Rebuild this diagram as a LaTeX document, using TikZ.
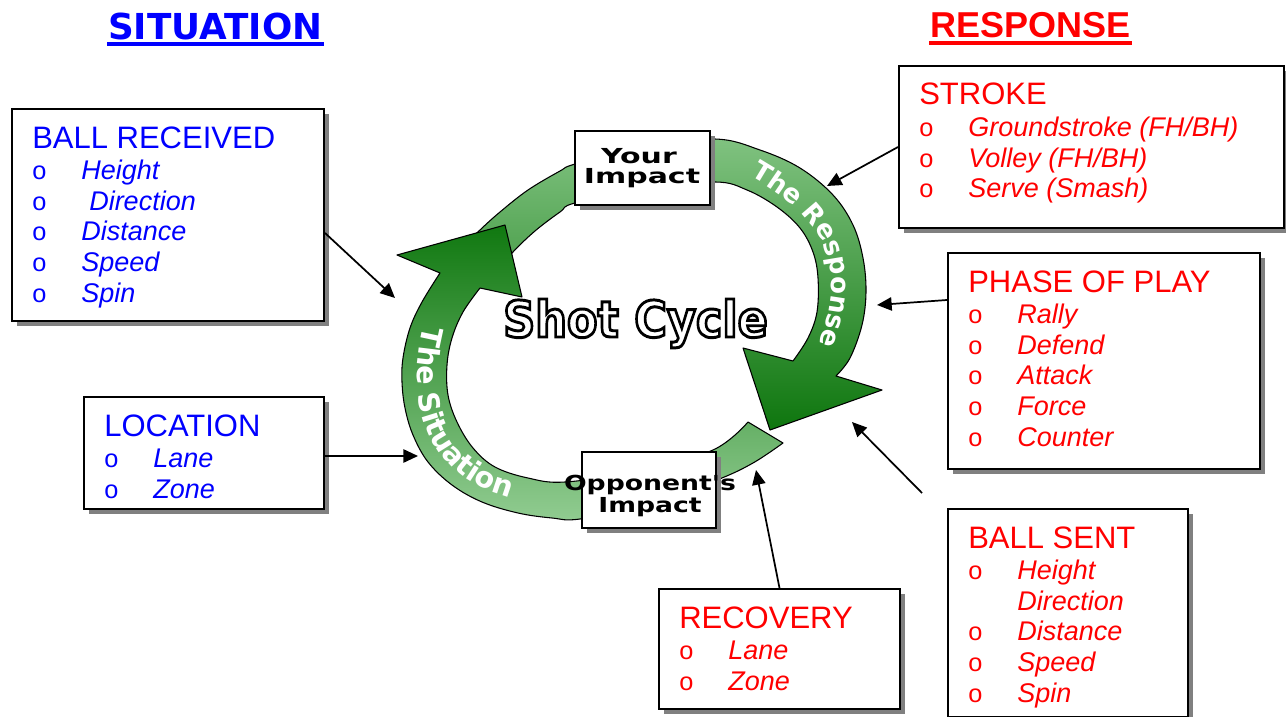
\documentclass[tikz,border=0pt]{standalone}
\usepackage{fontspec}
\setmainfont{Liberation Sans}
\newfontfamily\dvs{DejaVu Sans}
\usepackage{graphicx}
\usetikzlibrary{calc,shadows,arrows.meta,decorations.text}
\definecolor{tblue}{RGB}{0,0,255}
\definecolor{tred}{RGB}{255,0,0}
\definecolor{rlight}{RGB}{128,194,128}
\definecolor{rdark}{RGB}{14,118,14}
\definecolor{slight}{RGB}{145,204,145}
\definecolor{sdark}{RGB}{16,120,16}
\definecolor{shadowgray}{RGB}{128,128,128}
\newcommand\arcfont{\dvs\bfseries\fontsize{19.5}{20}\selectfont}
\newcommand\arcfontb{\dvs\bfseries\fontsize{21.5}{22}\selectfont}
\newcommand\outlined[1]{\special{pdf:literal direct 2 Tr 2.2 w 0 G 1 g}#1\special{pdf:literal direct 0 Tr 0 g 0 G}}
\newcommand\boxtext[4]{%
  \node[hd,text=#2] (#1-h) at ($(#1.north west)+(21,40)$) {#3};
  \foreach \bfl/\itx [count=\k] in {#4}{%
    \pgfmathsetmacro\yy{71.5+(\k-1)*30.7}%
    \ifnum\bfl=1 \node[bul,text=#2] (#1-b\k) at ($(#1.north west)+(21,\yy)$) {o};\fi
    \node[itm,text=#2] (#1-i\k) at ($(#1.north west)+(70,\yy)$) {\itx};
  }%
}
\begin{document}
\begin{tikzpicture}[x=0.75pt,y=-0.75pt,
  box/.style={draw, line width=1.5pt, fill=white, inner sep=0, anchor=north west,
    general shadow={fill=shadowgray, shadow xshift=3.8pt, shadow yshift=-3.8pt}},
  hd/.style={anchor=base west, inner sep=0, font=\fontsize{23.25}{24}\selectfont},
  itm/.style={anchor=base west, inner sep=0, font=\fontsize{20.25}{22}\selectfont\itshape},
  bul/.style={anchor=base west, inner sep=0, font=\fontsize{19}{20}\selectfont},
  ring/.style={draw=black, line width=0.8pt, line join=round},
  impact/.style={anchor=base, inner sep=0, font=\dvs\bfseries\fontsize{15.5}{16}\selectfont},
  conn/.style={line width=1.3pt, -{Triangle[length=11pt,width=10pt]}},
  title/.style={anchor=base west, inner sep=0}
]
\useasboundingbox (0,0) rectangle (1286,717);

% titles
\node[title, text=tblue, font=\dvs\bfseries\fontsize{26.8}{28}\selectfont] (sit) at (108,40) {SITUATION};
\draw[tblue, line width=2.5pt] ($(sit.base west)+(-1,4)$) -- ($(sit.base east)+(1,4)$);
\node[title, text=tred, font=\bfseries\fontsize{27}{28}\selectfont] (resp) at (930,38) {RESPONSE};
\draw[tred, line width=2.5pt] ($(resp.base west)+(-1,5)$) -- ($(resp.base east)+(1,5)$);

% response arrow
\draw[ring, top color=rlight, bottom color=rdark]
  plot[smooth, tension=0.6] coordinates {(458,252) (480,230) (500,212) (528,190) (560,171) (575,164) (640,146) (715,139) (760,150) (800,168) (833,195) (853,225) (863,258) (866,292) (862,325) (850,358) (836,376)}
  -- (882,390) -- (770,430) -- (743,348) --
  plot[smooth, tension=0.6] coordinates {(793,361) (808,338) (817,312) (818,278) (813,252) (800,228) (777,207) (747,190) (715,182) (645,189) (575,203) (560,212) (535,231) (513,252) (492,276)}
  -- cycle;

% situation arrow
\draw[ring, top color=sdark, bottom color=slight]
  (748,422) --
  plot[smooth, tension=0.6] coordinates {(783,443) (753,463) (717,480) (648,505) (580,519) (552,518) (518,513) (482,502) (452,485) (428,462) (413,435) (405,408) (402,382) (403,358) (410,328) (422,302) (440,273)}
  -- (397,255) -- (505,225) -- (522,297) --
  plot[smooth, tension=0.6] coordinates {(480,288) (463,312) (452,338) (447,365) (448,395) (457,422) (473,448) (495,467) (528,478) (565,482) (639,471) (713,450) (748,422)}
  -- cycle;

% arc texts
\path[decorate, decoration={text along path, text={|\arcfont|The Response}, text color=white, text align=left}]
  (750,176) .. controls (824,218.5) and (848.8,262.1) .. (819,343) -- (807,373);
\path[decorate, decoration={text along path, text={|\arcfontb|The Situation}, text color=white, text align=left}]
  (424,326) .. controls (401.5,413.3) and (433.6,482) .. (520,500) -- (560,508);

% impact boxes
\node[box, minimum width=101.25pt, minimum height=55.5pt] (your) at (574,130) {};
\node[impact] (your-t1) at (639,163) {\scalebox{1.45}[1]{Your}};
\node[impact] (your-t2) at (642,183) {\scalebox{1.45}[1]{Impact}};
\node[box, minimum width=100.5pt, minimum height=57pt] (opp) at (581,451) {};
\node[impact] (opp-t1) at (650,490) {\scalebox{1.29}[1]{Opponent's}};
\node[impact] (opp-t2) at (650,512) {\scalebox{1.29}[1]{Impact}};

% shot cycle
\node[anchor=base, inner sep=0, font=\dvs\bfseries\fontsize{37.5}{40}\selectfont] (shot) at (635.5,337)
  {\scalebox{0.89}[1]{\outlined{Shot Cycle}}};

% info boxes
\node[box, minimum width=234pt, minimum height=159pt] (br) at (11,108) {};
\boxtext{br}{tblue}{BALL RECEIVED}{1/Height, 1/{\hspace{6pt}Direction}, 1/Distance, 1/Speed, 1/Spin}
\node[box, minimum width=180pt, minimum height=84pt] (loc) at (83,396) {};
\boxtext{loc}{tblue}{LOCATION}{1/Lane, 1/Zone}
\node[box, minimum width=288.75pt, minimum height=121.5pt] (stroke) at (898,65) {};
\boxtext{stroke}{tred}{STROKE}{1/{Groundstroke (FH/BH)}, 1/{Volley (FH/BH)}, 1/{Serve (Smash)}}
\node[box, minimum width=234pt, minimum height=162pt] (phase) at (947,252) {};
\boxtext{phase}{tred}{PHASE OF PLAY}{1/Rally, 1/Defend, 1/Attack, 1/Force, 1/Counter}
\node[box, minimum width=180pt, minimum height=156pt] (bs) at (947,508) {};
\boxtext{bs}{tred}{BALL SENT}{1/Height, 0/Direction, 1/Distance, 1/Speed, 1/Spin}
\node[box, minimum width=180.75pt, minimum height=90pt] (rec) at (658,588) {};
\boxtext{rec}{tred}{RECOVERY}{1/Lane, 1/Zone}

% connectors
\coordinate (t1) at (395,298);
\coordinate (t2) at (418,456);
\coordinate (t3) at (827,186);
\coordinate (t4) at (877,305);
\coordinate (t5) at (852,422);
\coordinate (s5) at (922,493);
\coordinate (t6) at (756,470);
\draw[conn] ($(br.north east)+(0,125)$) -- (t1);
\draw[conn] (loc.east |- t2) -- (t2);
\draw[conn] (stroke.west) -- (t3);
\draw[conn] ($(phase.north west)+(0,48)$) -- (t4);
\draw[conn] (s5) -- (t5);
\draw[conn] (rec.north) -- (t6);
\end{tikzpicture}
\end{document}
